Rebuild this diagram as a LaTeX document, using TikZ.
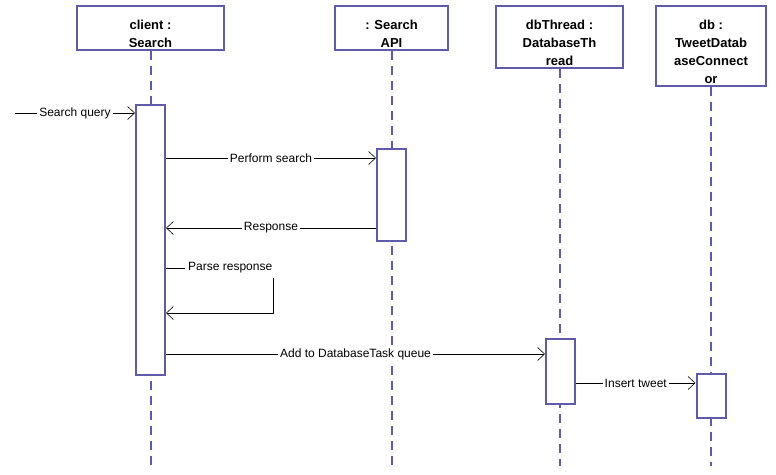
\documentclass[tikz,border=0pt]{standalone}
\usepackage{fontspec}
\setmainfont{Liberation Sans}
\usepackage{tikz}
\usetikzlibrary{arrows.meta,positioning}
\definecolor{seqline}{HTML}{5F5BA8}

\begin{document}
\begin{tikzpicture}[x=1pt, y=-1pt,
  head/.style={draw=seqline, line width=2pt, fill=white, align=center, anchor=north, font=\fontsize{13}{18}\selectfont\bfseries, inner sep=2pt, text height=#1, text depth=0pt},
  act/.style={draw=seqline, line width=2pt, fill=white, minimum width=29pt, inner sep=0pt},
  life/.style={draw=seqline, line width=2pt, dash pattern=on 9pt off 6pt},
  msg/.style={draw=black, line width=0.7pt, -{Straight Barb[length=7pt, width=13pt, line width=0.6pt]}},
  lbl/.style={fill=white, inner sep=2pt, font=\fontsize{12}{14}\selectfont}
]
  \useasboundingbox (0,0) rectangle (776,474);
  % lifeline heads
  \node[head=39.5pt, minimum width=147pt] (client) at (150.5,5) {client :\\Search};
  \node[head=39.5pt, minimum width=113pt] (api) at (391.5,5) {: Search\\API};
  \node[head=57.5pt, minimum width=127pt] (thread) at (559.5,5) {dbThread :\\DatabaseTh\\read};
  \node[head=75.5pt, minimum width=110pt] (db) at (711,5) {db :\\TweetDatab\\aseConnect\\or};
  % lifelines
  \coordinate (clientEnd) at (client.south |- 0,466);
  \coordinate (apiEnd) at (api.south |- 0,466);
  \coordinate (threadEnd) at (thread.south |- 0,466);
  \coordinate (dbEnd) at (db.south |- 0,466);
  \draw[life] (client.south) -- (clientEnd);
  \draw[life] (api.south) -- (apiEnd);
  \draw[life] (thread.south) -- (threadEnd);
  \draw[life] (db.south) -- (dbEnd);
  % activations
  \node[act, minimum height=270pt] (actClient) at (150.5,240) {};
  \node[act, minimum height=92pt] (actApi) at (391.5,195) {};
  \node[act, minimum height=65pt] (actThread) at (560.5,371.5) {};
  \node[act, minimum height=44pt] (actDb) at (711,396) {};
  % messages
  \coordinate (start) at (15,113);
  \draw[msg] (start) -- node[lbl] {Search query} (actClient.west |- start);
  \draw[msg] (actClient.east |- 0,158) -- node[lbl] {Perform search} (actApi.west |- 0,158);
  \draw[msg] (actApi.west |- 0,228) -- node[lbl] {Response} (actClient.east |- 0,228);
  \draw[msg] (actClient.east |- 0,268) -- node[lbl, inner xsep=3pt, inner ysep=5pt, pos=0.6] {Parse response} ++(107,0) -- ++(0,45) -- (actClient.east |- 0,313);
  \draw[msg] (actClient.east |- 0,354) -- node[lbl] {Add to DatabaseTask queue} (actThread.west |- 0,354);
  \draw[msg] (actThread.east |- 0,383) -- node[lbl] {Insert tweet} (actDb.west |- 0,383);
\end{tikzpicture}
\end{document}
